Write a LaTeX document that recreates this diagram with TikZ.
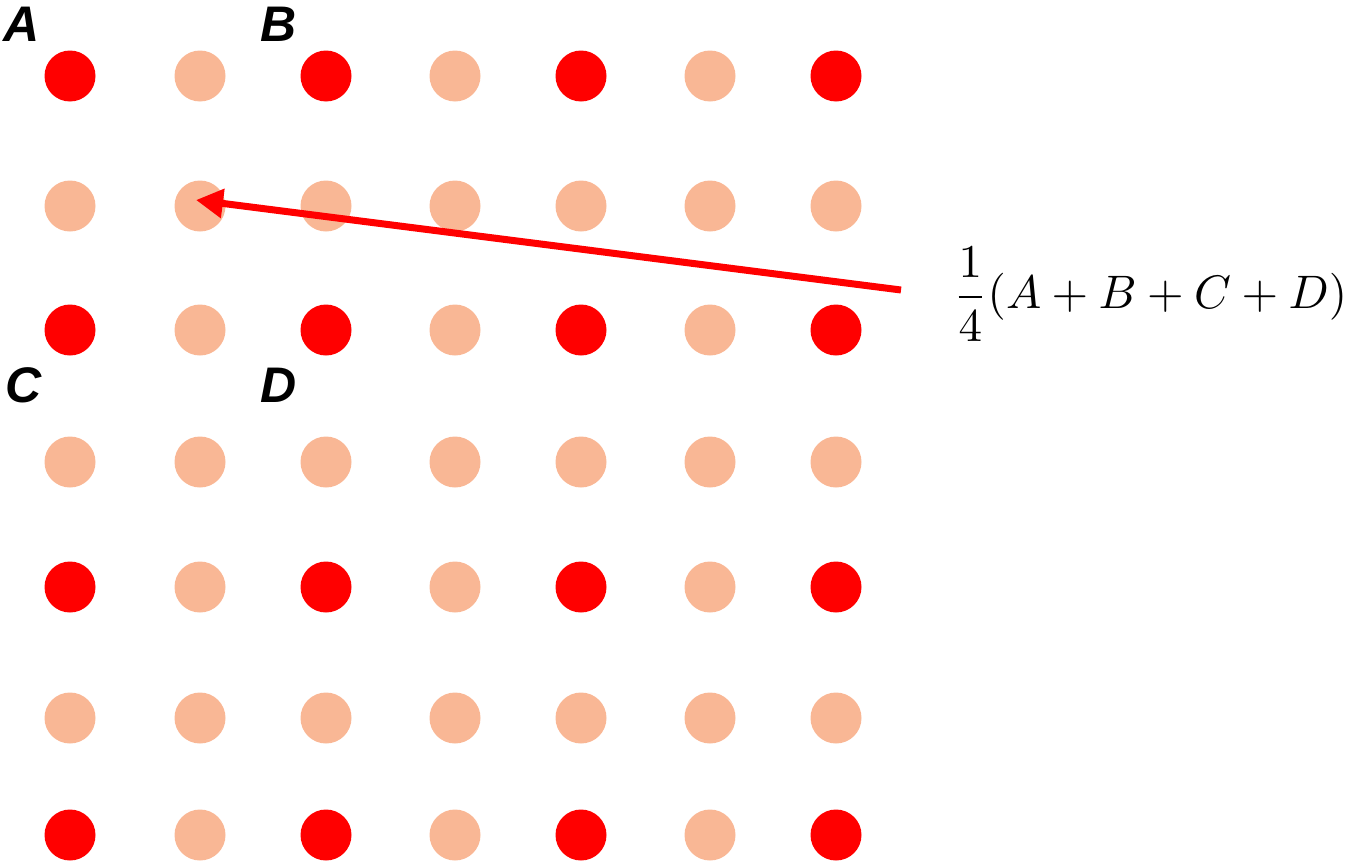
\documentclass[tikz,border=0pt]{standalone}
\usepackage{fontspec}
\usetikzlibrary{arrows.meta,calc}
\newfontfamily\lblfont{Liberation Sans}
\definecolor{dotred}{RGB}{255,0,0}
\definecolor{dotpeach}{RGB}{249,183,149}
\tikzset{
  reddot/.style={circle,fill=dotred,inner sep=0pt,minimum size=51pt},
  peachdot/.style={circle,fill=dotpeach,inner sep=0pt,minimum size=51pt},
  lbl/.style={anchor=base west,inner sep=0pt,font=\lblfont\fontsize{50}{50}\selectfont\bfseries\itshape},
  avgarrow/.style={draw=dotred,line width=7pt,-{Triangle[length=27pt,width=28pt]}}
}
\begin{document}
\begin{tikzpicture}[x=1pt,y=-1pt]
\useasboundingbox (0,0) rectangle (1351,862);
\def\colsx{{70,200,326,455,581,710,836}}
\def\rowsy{{76,206,330,462,587,718,835}}
\foreach \i in {0,...,6}{
  \foreach \j in {0,...,6}{
    \pgfmathsetmacro{\xx}{\colsx[\i]}
    \pgfmathsetmacro{\yy}{\rowsy[\j]}
    \pgfmathtruncatemacro{\isred}{(mod(\i,2)==0 && mod(\j,2)==0) ? 1 : 0}
    \ifnum\isred=1
      \node[reddot] (d\i\j) at (\xx,\yy) {};
    \else
      \node[peachdot] (d\i\j) at (\xx,\yy) {};
    \fi
  }
}
\node[lbl] (la) at (3,41) {A};
\node[lbl] (lb) at (260,41) {B};
\node[lbl] (lc) at (5,402) {C};
\node[lbl] (ld) at (260,402) {D};
\node[anchor=west,inner sep=0pt,scale=4.7] (formula) at (952,294) {$\displaystyle\frac{1}{4}(A+B+C+D)$};
\coordinate (tail) at (901,290);
\coordinate (tip) at ($(d11.center)+(-4,-6)$);
\draw[avgarrow] (tail) -- (tip);
\end{tikzpicture}
\end{document}
